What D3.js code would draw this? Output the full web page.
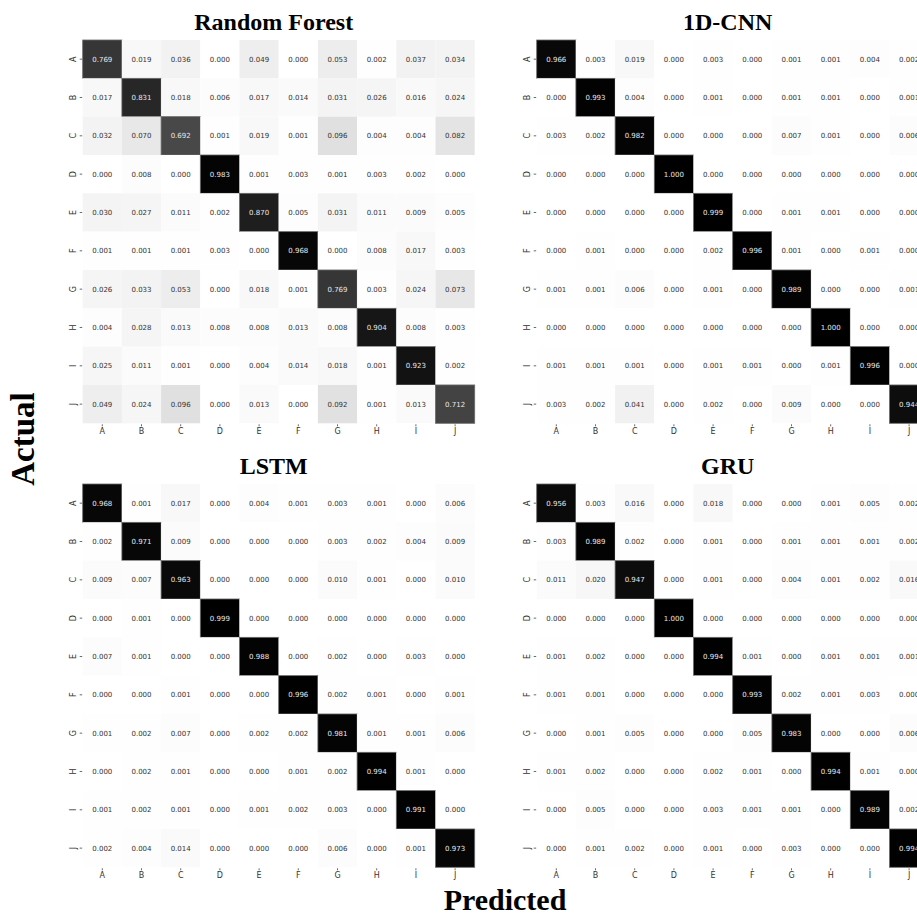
<!DOCTYPE html>
<html>
<head>
<meta charset="utf-8">
<script src="https://cdn.jsdelivr.net/npm/d3@7/dist/d3.min.js"></script>
<style>
  html, body { margin: 0; padding: 0; background: #fff; }
  svg { display: block; }
</style>
</head>
<body>
<svg id="chart" width="917" height="917"></svg>
<script>
const classes = ["A","B","C","D","E","F","G","H","I","J"];
const modelNames = ["Random Forest", "1D-CNN", "LSTM", "GRU"];

const rfMatrix = [
  [0.769,0.019,0.036,0.000,0.049,0.000,0.053,0.002,0.037,0.034],
  [0.017,0.831,0.018,0.006,0.017,0.014,0.031,0.026,0.016,0.024],
  [0.032,0.070,0.692,0.001,0.019,0.001,0.096,0.004,0.004,0.082],
  [0.000,0.008,0.000,0.983,0.001,0.003,0.001,0.003,0.002,0.000],
  [0.030,0.027,0.011,0.002,0.870,0.005,0.031,0.011,0.009,0.005],
  [0.001,0.001,0.001,0.003,0.000,0.968,0.000,0.008,0.017,0.003],
  [0.026,0.033,0.053,0.000,0.018,0.001,0.769,0.003,0.024,0.073],
  [0.004,0.028,0.013,0.008,0.008,0.013,0.008,0.904,0.008,0.003],
  [0.025,0.011,0.001,0.000,0.004,0.014,0.018,0.001,0.923,0.002],
  [0.049,0.024,0.096,0.000,0.013,0.000,0.092,0.001,0.013,0.712]
];
const cnnMatrix = [
  [0.966,0.003,0.019,0.000,0.003,0.000,0.001,0.001,0.004,0.002],
  [0.000,0.993,0.004,0.000,0.001,0.000,0.001,0.001,0.000,0.001],
  [0.003,0.002,0.982,0.000,0.000,0.000,0.007,0.001,0.000,0.006],
  [0.000,0.000,0.000,1.000,0.000,0.000,0.000,0.000,0.000,0.000],
  [0.000,0.000,0.000,0.000,0.999,0.000,0.001,0.001,0.000,0.000],
  [0.000,0.001,0.000,0.000,0.002,0.996,0.001,0.000,0.001,0.000],
  [0.001,0.001,0.006,0.000,0.001,0.000,0.989,0.000,0.000,0.001],
  [0.000,0.000,0.000,0.000,0.000,0.000,0.000,1.000,0.000,0.000],
  [0.001,0.001,0.001,0.000,0.001,0.001,0.000,0.001,0.996,0.000],
  [0.003,0.002,0.041,0.000,0.002,0.000,0.009,0.000,0.000,0.944]
];
const lstmMatrix = [
  [0.968,0.001,0.017,0.000,0.004,0.001,0.003,0.001,0.000,0.006],
  [0.002,0.971,0.009,0.000,0.000,0.000,0.003,0.002,0.004,0.009],
  [0.009,0.007,0.963,0.000,0.000,0.000,0.010,0.001,0.000,0.010],
  [0.000,0.001,0.000,0.999,0.000,0.000,0.000,0.000,0.000,0.000],
  [0.007,0.001,0.000,0.000,0.988,0.000,0.002,0.000,0.003,0.000],
  [0.000,0.000,0.001,0.000,0.000,0.996,0.002,0.001,0.000,0.001],
  [0.001,0.002,0.007,0.000,0.002,0.002,0.981,0.001,0.001,0.006],
  [0.000,0.002,0.001,0.000,0.000,0.001,0.002,0.994,0.001,0.000],
  [0.001,0.002,0.001,0.000,0.001,0.002,0.003,0.000,0.991,0.000],
  [0.002,0.004,0.014,0.000,0.000,0.000,0.006,0.000,0.001,0.973]
];
const gruMatrix = [
  [0.956,0.003,0.016,0.000,0.018,0.000,0.000,0.001,0.005,0.002],
  [0.003,0.989,0.002,0.000,0.001,0.000,0.001,0.001,0.001,0.002],
  [0.011,0.020,0.947,0.000,0.001,0.000,0.004,0.001,0.002,0.016],
  [0.000,0.000,0.000,1.000,0.000,0.000,0.000,0.000,0.000,0.000],
  [0.001,0.002,0.000,0.000,0.994,0.001,0.000,0.001,0.001,0.001],
  [0.001,0.001,0.000,0.000,0.000,0.993,0.002,0.001,0.003,0.000],
  [0.000,0.001,0.005,0.000,0.000,0.005,0.983,0.000,0.000,0.006],
  [0.001,0.002,0.000,0.000,0.002,0.001,0.000,0.994,0.001,0.000],
  [0.000,0.005,0.000,0.000,0.003,0.001,0.001,0.000,0.989,0.002],
  [0.000,0.001,0.002,0.000,0.001,0.000,0.003,0.000,0.000,0.994]
];
const matrices = [rfMatrix, cnnMatrix, lstmMatrix, gruMatrix];

// Layout
const panelOrigins = [[82.7, 40], [536.7, 40], [82.7, 484], [536.7, 484]];
const gridW = 392, gridH = 383.3;

const svg = d3.select("#chart");
const color = d3.scalePow().exponent(0.9).domain([0, 1]).range(["#ffffff", "#000000"]).clamp(true);

matrices.forEach((mat, p) => {
  const [ox, oy] = panelOrigins[p];
  const g = svg.append("g").attr("transform", `translate(${ox},${oy})`);
  const x = d3.scaleBand().domain(classes).range([0, gridW]).padding(0);
  const y = d3.scaleBand().domain(classes).range([0, gridH]).padding(0);

  const cells = [];
  mat.forEach((row, i) => row.forEach((v, j) => cells.push({r: classes[i], c: classes[j], v})));

  g.selectAll("rect.cell").data(cells).join("rect")
    .attr("class", "cell")
    .attr("x", d => x(d.c))
    .attr("y", d => y(d.r))
    .attr("width", x.bandwidth())
    .attr("height", y.bandwidth())
    .attr("fill", d => color(d.v))
    .attr("stroke", d => d.v > 0.5 ? "#6a6a6a" : "none")
    .attr("stroke-width", 0.8);

  g.selectAll("text.val").data(cells).join("text")
    .attr("class", "val")
    .attr("x", d => x(d.c) + x.bandwidth() / 2)
    .attr("y", d => y(d.r) + y.bandwidth() / 2)
    .attr("dy", "0.35em")
    .attr("text-anchor", "middle")
    .attr("font-family", "DejaVu Sans, sans-serif")
    .attr("font-size", 7)
    .attr("fill", d => d.v > 0.45 ? "#e8e8e8" : "#333333")
    .text(d => d.v.toFixed(3));

  // x axis
  const xAxis = g.append("g").attr("transform", `translate(0,${gridH})`)
    .call(d3.axisBottom(x).tickSize(3).tickPadding(2.5));
  xAxis.select(".domain").remove();
  xAxis.selectAll("line").attr("stroke", "#444").attr("stroke-width", 0.8).attr("y1", 1);
  xAxis.selectAll("text").attr("font-family", "DejaVu Sans, sans-serif").attr("font-size", 8).attr("fill", "#333");

  // y axis
  const yAxis = g.append("g")
    .call(d3.axisLeft(y).tickSize(3).tickPadding(3));
  yAxis.select(".domain").remove();
  yAxis.selectAll("line").attr("stroke", "#444").attr("stroke-width", 0.8).attr("x1", -0.5).attr("x2", -3);
  yAxis.selectAll("text")
    .attr("font-family", "DejaVu Sans, sans-serif").attr("font-size", 8).attr("fill", "#333")
    .attr("x", null).attr("dy", null)
    .attr("text-anchor", "middle")
    .attr("transform", "translate(-9.4,0) rotate(-90)")
    .attr("y", 0)
    .attr("dy", "0.35em");

  // title
  svg.append("text")
    .attr("x", ox + gridW / 2 - 5)
    .attr("y", oy - 10)
    .attr("text-anchor", "middle")
    .attr("font-family", "Liberation Serif, Times New Roman, serif")
    .attr("font-weight", "bold")
    .attr("font-size", 24)
    .attr("fill", "#000")
    .text(modelNames[p]);
});

// Figure labels
svg.append("text")
  .attr("x", 505).attr("y", 910)
  .attr("text-anchor", "middle")
  .attr("font-family", "Liberation Serif, Times New Roman, serif")
  .attr("font-weight", "bold").attr("font-size", 30)
  .text("Predicted");

svg.append("text")
  .attr("transform", "translate(34,439) rotate(-90)")
  .attr("text-anchor", "middle")
  .attr("font-family", "Liberation Serif, Times New Roman, serif")
  .attr("font-weight", "bold").attr("font-size", 33)
  .text("Actual");
</script>
</body>
</html>
